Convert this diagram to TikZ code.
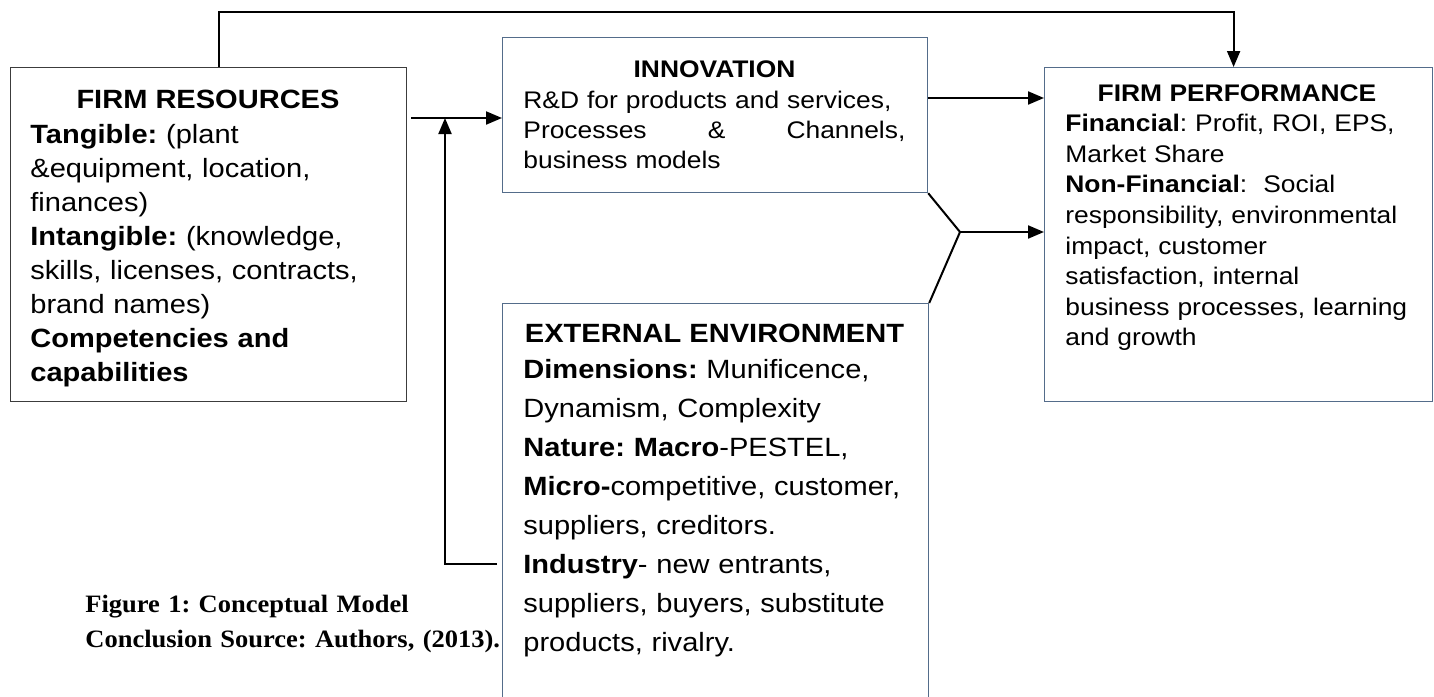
\documentclass[tikz,border=0pt]{standalone}
\usepackage{fontspec}
\setmainfont{Liberation Sans}[FakeStretch=1.1]
\newfontfamily\capfont{Liberation Serif}[FakeStretch=1.06]
\usetikzlibrary{arrows.meta}
\definecolor{frline}{RGB}{60,60,60}
\definecolor{bxline}{RGB}{84,108,138}
\newcommand\fsbig{\fontsize{13.2pt}{17pt}\selectfont}
\newcommand\fsext{\fontsize{13.2pt}{19.55pt}\selectfont}
\newcommand\fsinn{\fontsize{12pt}{15pt}\selectfont}
\newcommand\fsfp{\fontsize{12pt}{15.3pt}\selectfont}
\tikzset{
  conn/.style={line width=1pt, draw=black},
  arr/.style={conn, -{Triangle[length=8pt,width=6.5pt]}},
  frbox/.style={draw=frline, line width=0.6pt, inner sep=0pt, anchor=north west},
  bbox/.style={draw=bxline, line width=0.6pt, inner sep=0pt, anchor=north west},
  ttl/.style={anchor=base, inner sep=0pt},
  body/.style={anchor=base west, inner sep=0pt, align=left},
}
\begin{document}
\frenchspacing
\begin{tikzpicture}[x=0.5pt,y=-0.5pt]
\useasboundingbox (0,0) rectangle (1434,696);
\clip (0,0) rectangle (1434,696);
% boxes
\node[frbox, minimum width=198pt, minimum height=167pt] (fr) at (10,67) {};
\node[bbox, minimum width=212.5pt, minimum height=77.5pt] (inn) at (502,37) {};
\node[bbox, minimum width=194pt, minimum height=167pt] (fp) at (1044,67) {};
\node[bbox, minimum width=213pt, minimum height=215pt] (ext) at (502,303) {};
% texts
\node[ttl, font=\fsbig\bfseries] (frt) at (208,108) {FIRM RESOURCES};
\node[body, font=\fsbig, text width=185pt] (frb) at (30,143) {%
\textbf{Tangible:} (plant\\
\&equipment, location,\\
finances)\\
\textbf{Intangible:} (knowledge,\\
skills, licenses, contracts,\\
brand names)\\
\textbf{Competencies and}\\
\textbf{capabilities}};
\node[ttl, font=\fsinn\bfseries] (innt) at (714.5,77) {INNOVATION};
\node[body, font=\fsinn, text width=191pt] (innb) at (523,108) {%
R\&D for products and services,\\
\makebox[191pt][l]{Processes\hfill\&\hfill Channels,}\\
business models};
\node[ttl, font=\fsfp\bfseries] (fpt) at (1237,101.7) {FIRM PERFORMANCE};
\node[body, font=\fsfp, text width=183pt] (fpb) at (1065,131.7) {%
\textbf{Financial}: Profit, ROI, EPS,\\
Market Share\\
\textbf{Non-Financial}:\ \ Social\\
responsibility, environmental\\
impact, customer\\
satisfaction, internal\\
business processes, learning\\
and growth};
\node[ttl, font=\fsext\bfseries] (extt) at (714.5,342.7) {EXTERNAL ENVIRONMENT};
\node[body, font=\fsext, text width=200pt] (extb) at (523,378) {%
\textbf{Dimensions:} Munificence,\\
Dynamism, Complexity\\
\textbf{Nature: Macro}-PESTEL,\\
\textbf{Micro-}competitive, customer,\\
suppliers, creditors.\\
\textbf{Industry}- new entrants,\\
suppliers, buyers, substitute\\
products, rivalry.};
\node[body, font=\capfont\bfseries\fontsize{12.5pt}{17.5pt}\selectfont, text width=220pt] (cap) at (85,612) {%
Figure 1: Conceptual Model\\
Conclusion Source: Authors, (2013).};
% connectors
\coordinate (j1) at (445,118);
\coordinate (j2) at (445,564);
\coordinate (yj) at (960,232);
\draw[arr] ([xshift=5pt]fr.north) -- ++(0,-55) -| ([xshift=-2.5pt]fp.north);
\draw[arr, shorten <=2pt] (fr.east |- j1) -- (inn.west |- j1);
\draw[arr, shorten <=2.5pt] (ext.west |- j2) -- (j2) -- (j1);
\draw[arr] (inn.east |- 0,98) -- (fp.west |- 0,98);
\draw[conn] (inn.south east) -- (yj) -- (ext.north east);
\draw[arr] (yj) -- (fp.west |- yj);
\end{tikzpicture}
\end{document}
